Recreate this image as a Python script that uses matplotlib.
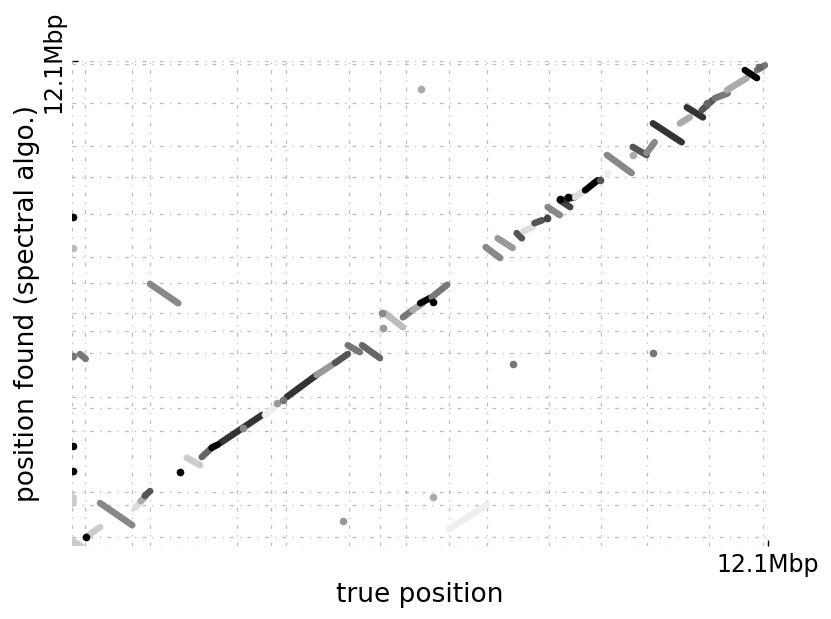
import numpy as np
import matplotlib
matplotlib.use('Agg')
from matplotlib import pyplot as plt

# genome length (Mbp) and contig boundaries, same on both axes
genome_len = 12.1
boundaries = [0.0, 0.22, 1.03, 1.35, 2.86, 3.45, 3.71, 4.82, 5.36, 5.81,
              6.56, 7.22, 8.29, 9.20, 9.99, 11.07, 12.02]

# aligned segments: true position (x) vs found position (y), in Mbp
seg_x0 = [0.01, 0.23, 0.48, 1.09, 1.19, 1.26, 1.99, 2.25, 2.57, 3.35, 3.73,
          4.25, 4.57, 4.79, 5.04, 5.44, 5.75, 5.92, 6.05, 6.25, 7.19, 7.40,
          7.73, 7.85, 8.04, 8.27, 8.48, 8.53, 8.74, 8.92, 9.30, 9.75, 9.99,
          10.10, 10.57, 10.69, 10.95, 11.18, 11.39, 11.70, 11.91,
          0.13, 0.01, 1.35, 6.55, 2.42]
seg_y0 = [0.12, 0.22, 1.07, 0.95, 1.12, 1.25, 2.20, 2.22, 2.57, 3.27, 3.72,
          4.27, 4.57, 5.01, 5.01, 5.81, 5.71, 5.89, 6.06, 6.21, 7.46, 7.68,
          7.81, 7.86, 8.06, 8.46, 8.63, 8.63, 8.71, 8.88, 9.76, 9.96, 9.81,
          10.55, 10.55, 10.95, 10.88, 11.18, 11.38, 11.88, 11.88,
          4.79, 1.07, 6.54, 0.42, 2.45]
seg_x1 = [0.15, 0.48, 1.04, 1.19, 1.26, 1.35, 2.22, 2.44, 3.30, 3.52, 4.25,
          4.57, 4.79, 5.00, 5.35, 5.75, 5.92, 6.10, 6.25, 6.52, 7.44, 7.66,
          7.82, 8.01, 8.17, 8.48, 8.66, 8.74, 8.92, 9.14, 9.73, 9.99, 10.13,
          10.60, 10.74, 10.97, 11.14, 11.40, 11.73, 11.91, 12.05,
          0.23, 0.01, 1.84, 7.21, 2.53]
seg_y1 = [0.0, 0.47, 0.52, 1.12, 1.22, 1.37, 2.02, 2.47, 3.27, 3.47, 4.27,
          4.57, 4.79, 4.84, 4.69, 5.46, 5.89, 6.06, 6.21, 6.52, 7.19, 7.44,
          7.68, 7.96, 8.13, 8.26, 8.46, 8.71, 8.88, 9.13, 9.31, 9.76, 10.08,
          10.08, 10.70, 10.70, 11.13, 11.30, 11.68, 11.68, 12.00,
          4.67, 1.22, 6.06, 1.02, 2.53]
seg_gray = ['#cccccc', '#cccccc', '#888888', '#dddddd', '#aaaaaa', '#555555',
            '#cccccc', '#666666', '#333333', '#eeeeee', '#333333', '#999999',
            '#555555', '#777777', '#666666', '#bbbbbb', '#777777', '#aaaaaa',
            '#000000', '#777777', '#888888', '#999999', '#555555', '#dddddd',
            '#555555', '#888888', '#444444', '#333333', '#dddddd', '#000000',
            '#888888', '#555555', '#888888', '#333333', '#aaaaaa', '#333333',
            '#555555', '#777777', '#aaaaaa', '#000000', '#777777',
            '#777777', '#cccccc', '#888888', '#eeeeee', '#000000']

# isolated hits
dot_x = [0.23, 1.87, 2.97, 3.56, 3.66, 5.35, 5.40, 5.38, 6.27, 8.25, 9.18,
         9.30, 9.75, 8.48, 8.62, 11.04, 11.95,
         0.01, 0.01, 0.01, 0.01, 0.01, 6.06, 7.66, 10.10, 4.71, 6.27]
dot_y = [0.22, 1.85, 2.94, 3.57, 3.64, 5.36, 5.44, 5.81, 6.09, 8.18, 9.13,
         9.31, 9.76, 8.66, 8.71, 11.05, 11.95,
         8.20, 7.44, 4.74, 2.50, 1.87, 11.40, 4.54, 4.82, 0.62, 1.22]
dot_gray = ['#000000', '#000000', '#888888', '#999999', '#777777', '#eeeeee',
            '#999999', '#888888', '#000000', '#444444', '#555555', '#eeeeee',
            '#aaaaaa', '#000000', '#000000', '#666666', '#666666',
            '#000000', '#bbbbbb', '#777777', '#000000', '#000000', '#aaaaaa',
            '#777777', '#777777', '#999999', '#aaaaaa']

fig = plt.figure(figsize=(8.31, 6.19), dpi=100)
ax = fig.add_axes([0.0872, 0.118, 0.8368, 0.783])

for x0, y0, x1, y1, g in zip(seg_x0, seg_y0, seg_x1, seg_y1, seg_gray):
    ax.plot([x0, x1], [y0, y1], color=g, lw=4.8, solid_capstyle='round')

for x, y, g in zip(dot_x, dot_y, dot_gray):
    ax.plot(x, y, 'o', color=g, ms=5.5, mec='none')

ax.set_xlim(0, genome_len)
ax.set_ylim(0, genome_len)
for s in ax.spines.values():
    s.set_visible(False)

ax.set_xticks([genome_len])
ax.set_xticklabels(['%.1fMbp' % genome_len], fontsize=17)
ax.set_yticks([genome_len])
ax.set_yticklabels(['%.1fMbp' % genome_len], fontsize=17, rotation=90, va='center')
ax.set_xticks(boundaries, minor=True)
ax.set_yticks(boundaries, minor=True)
ax.tick_params(which='major', direction='in', length=4, width=1, pad=5)
ax.tick_params(which='minor', length=0)
ax.grid(True, which='both', color='#bbbbbb', lw=0.9, linestyle=(0, (3, 5, 1, 5)))
ax.set_axisbelow(True)

ax.set_xlabel('true position', fontsize=19, labelpad=4)
ax.set_ylabel('position found (spectral algo.)', fontsize=19, labelpad=1)

plt.savefig('out.png', dpi=100)
